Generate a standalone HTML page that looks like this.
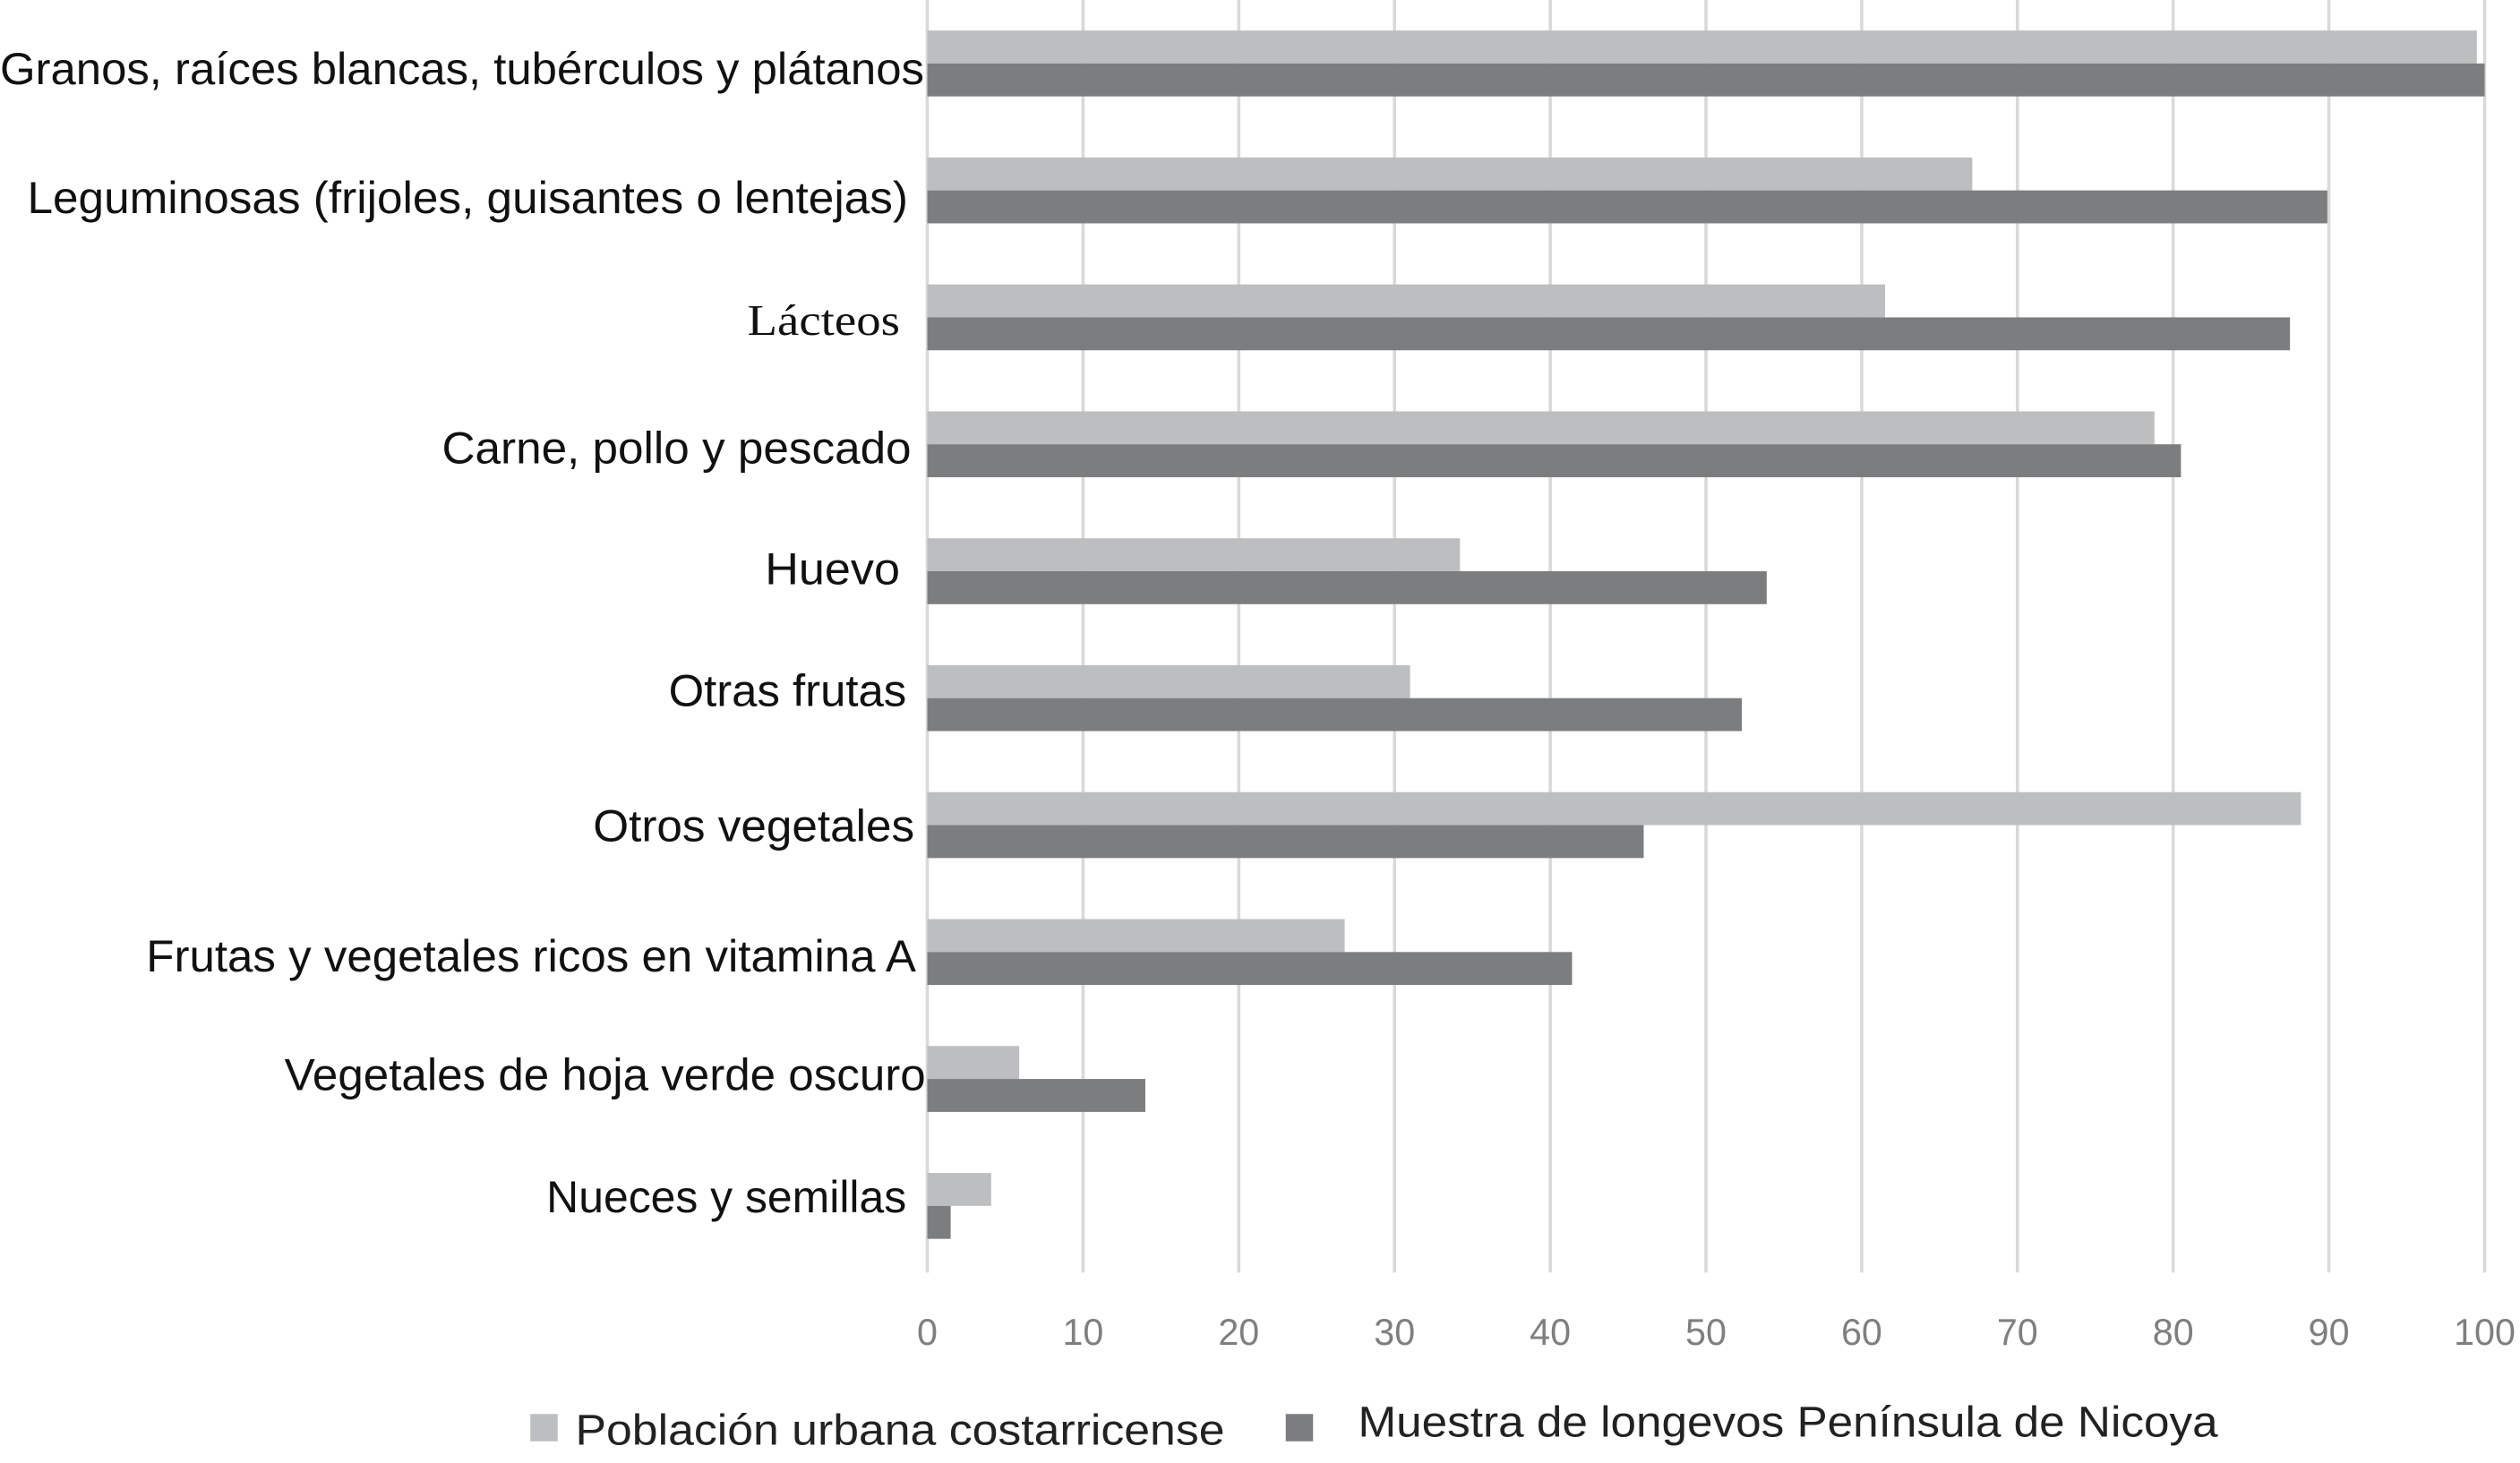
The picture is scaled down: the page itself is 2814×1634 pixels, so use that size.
<!DOCTYPE html>
<html><head><meta charset="utf-8"><style>
html,body{margin:0;padding:0;background:#fff;}
svg{display:block;}
text{font-family:"Liberation Sans Narrow","Liberation Sans",sans-serif;}
</style></head><body>
<svg id="chart" width="2814" height="1634" viewBox="0 0 1568 910.5" preserveAspectRatio="none" xmlns="http://www.w3.org/2000/svg">
<g id="grid"></g>
<g id="bars"></g>
<g id="cats"></g>
<g id="ticks"></g>
<g>
  <rect x="330" y="880" width="17" height="17" fill="#bdbebf"/>
  <text x="358" y="899" font-size="27" textLength="404" lengthAdjust="spacingAndGlyphs" fill="#222">Población urbana costarricense</text>
  <rect x="800" y="880" width="17" height="17" fill="#7c7d7f"/>
  <text x="845" y="894" font-size="27" textLength="535" lengthAdjust="spacingAndGlyphs" fill="#222">Muestra de longevos Península de Nicoya</text>
</g>
</svg>
<script>
const categories = ["Granos, raíces blancas, tubérculos y plátanos","Leguminosas (frijoles, guisantes o lentejas)","Lácteos","Carne, pollo y pescado","Huevo","Otras frutas","Otros vegetales","Frutas y vegetales ricos en vitamina A","Vegetales de hoja verde oscuro","Nueces y semillas"];
const urbana = [99.5,67.1,61.5,78.8,34.2,31.0,88.2,26.8,5.9,4.1];
const nicoya = [100,89.9,87.5,80.5,53.9,52.3,46.0,41.4,14.0,1.5];
const tickLabels = [0,10,20,30,40,50,60,70,80,90,100];
const labelWidths = [575,548,95,292,84,148,200,479,399,224];
const labelEnds = [575,565,560,567,560,564,569,570,576,564];
const labelDy = [13,14,11,12,8,5,10,12,7,4];
const NS="http://www.w3.org/2000/svg";
const X0=577, X1=1546, PLOT_TOP=0, BAND=79, BAR=20.5;
function xs(v){return X0+(X1-X0)*v/100;}
function bandC(i){return PLOT_TOP+BAND/2+BAND*i;}
function mk(tag,attrs,parent){const e=document.createElementNS(NS,tag);for(const k in attrs)e.setAttribute(k,attrs[k]);parent.appendChild(e);return e;}
const grid=document.getElementById('grid'),bars=document.getElementById('bars'),cats=document.getElementById('cats'),ticks=document.getElementById('ticks');
const plotBottom=PLOT_TOP+BAND*categories.length+2;
tickLabels.forEach(t=>{
  const l=mk('line',{x1:xs(t),x2:xs(t),y1:0,y2:plotBottom,stroke:'#d9d9d9','stroke-width':2},grid);
  
  
  const tx=mk('text',{x:xs(t),y:837,'font-size':23,'text-anchor':'middle',fill:'#7f7f7f'},ticks);
  tx.textContent=t;
  
  
});
categories.forEach((c,i)=>{
  const cy=bandC(i);
  const b1=mk('rect',{x:X0,y:cy-BAR,width:xs(urbana[i])-X0,height:BAR,fill:'#bdbebf'},bars);
  
  
  const b2=mk('rect',{x:X0,y:cy,width:xs(nicoya[i])-X0,height:BAR,fill:'#7c7d7f'},bars);
  
  
  const serif = c==="Lácteos";
  const t=mk('text',{x:labelEnds[i],y:cy+labelDy[i],'font-size':serif?27:28,'text-anchor':'end',fill:'#111',textLength:labelWidths[i],lengthAdjust:'spacingAndGlyphs'},cats);
  if(serif) t.setAttribute('style','font-family:"Liberation Serif",serif');
  t.textContent=c;
  
  
});
</script>
</body></html>
